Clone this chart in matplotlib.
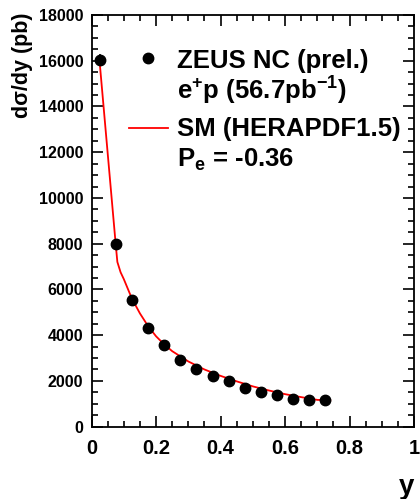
import matplotlib
matplotlib.use("Agg")
import matplotlib.pyplot as plt
from matplotlib.ticker import MultipleLocator

plt.rcParams['font.family'] = ['Liberation Sans', 'DejaVu Sans']
plt.rcParams['font.weight'] = 'bold'
plt.rcParams['mathtext.fontset'] = 'custom'
plt.rcParams['mathtext.rm'] = 'Liberation Sans:bold'
plt.rcParams['mathtext.bf'] = 'Liberation Sans:bold'
plt.rcParams['mathtext.default'] = 'bf'

# ZEUS NC e+p data points
y_bins = [0.025, 0.075, 0.125, 0.175, 0.225, 0.275, 0.325, 0.375,
          0.425, 0.475, 0.525, 0.575, 0.625, 0.675, 0.725]
dsig = [16050, 7980, 5550, 4320, 3570, 2900, 2520, 2230,
        1990, 1670, 1530, 1380, 1210, 1150, 1150]
dsig_err = [250, 150, 120, 100, 90, 80, 75, 70,
            65, 60, 60, 55, 55, 55, 55]

# SM (HERAPDF1.5) prediction
sm_y = [0.025, 0.075, 0.08, 0.09, 0.1, 0.125, 0.15, 0.175, 0.2, 0.225,
        0.25, 0.3, 0.35, 0.4, 0.45, 0.5, 0.55, 0.6, 0.65, 0.7, 0.74]
sm_val = [15950, 7950, 7200, 6750, 6450, 5600, 4950, 4400, 3950, 3600,
          3300, 2850, 2500, 2220, 1980, 1760, 1580, 1420, 1290, 1170, 1150]

fig = plt.figure(figsize=(4.2, 4.99), dpi=100)
ax = fig.add_axes([0.218, 0.145, 0.768, 0.825])

ax.plot(sm_y, sm_val, color='red', lw=1.3, zorder=2)
ax.errorbar(y_bins, dsig, yerr=dsig_err, fmt='o', color='black', ms=7.5,
            elinewidth=1.2, capsize=0, zorder=3)

ax.set_xlim(0, 1)
ax.set_ylim(0, 18000)
ax.xaxis.set_major_locator(MultipleLocator(0.2))
ax.xaxis.set_minor_locator(MultipleLocator(0.05))
ax.yaxis.set_major_locator(MultipleLocator(2000))
ax.yaxis.set_minor_locator(MultipleLocator(500))
ax.tick_params(which='both', direction='in', top=True, right=True, width=1.2)
ax.tick_params(which='major', length=8)
ax.tick_params(which='minor', length=4)
ax.tick_params(axis='x', pad=9, labelsize=14.5)
ax.tick_params(axis='y', pad=6, labelsize=11.5)
ax.set_xticks([0, 0.2, 0.4, 0.6, 0.8, 1.0])
ax.set_xticklabels(['0', '0.2', '0.4', '0.6', '0.8', '1'])
for s in ax.spines.values():
    s.set_linewidth(1.3)

ax.text(-0.215, 0.878, 'dσ/dy (pb)', transform=ax.transAxes, fontsize=15.5,
        rotation=90, ha='center', va='center')
ax.text(1.0, -0.146, 'y', transform=ax.transAxes, fontsize=20,
        ha='right', va='center')

# legend
fs = 18.5
ax.plot([0.176], [16100], 'o', color='black', ms=7.5)
ax.text(0.264, 15660, 'ZEUS NC (prel.)', fontsize=fs, va='baseline')
ax.text(0.264, 14280, r'e$^{+}$p (56.7pb$^{-1}$)', fontsize=fs, va='baseline')
ax.plot([0.117, 0.238], [13050, 13050], color='red', lw=1.3)
ax.text(0.264, 12700, 'SM (HERAPDF1.5)', fontsize=fs, va='baseline')
ax.text(0.264, 11370, r'P$_{e}$ = -0.36', fontsize=fs, va='baseline')

fig.savefig('out.png', dpi=100)
